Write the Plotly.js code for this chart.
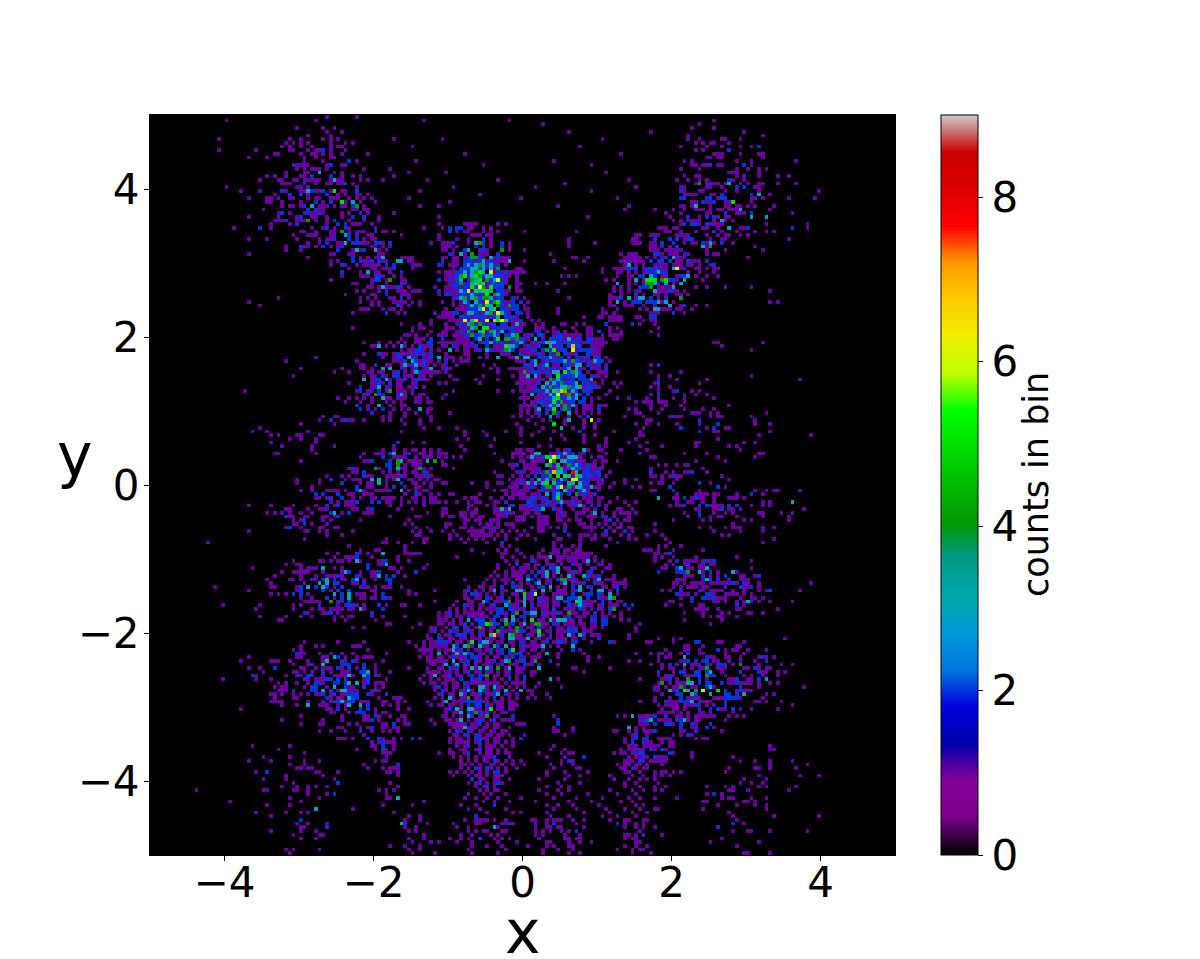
<!DOCTYPE html>
<html>
<head>
<meta charset="utf-8">
<script src="https://cdn.plot.ly/plotly-3.0.1.min.js"></script>
<style>
  html, body { margin: 0; padding: 0; background: #fff; }
  #chart { width: 1200px; height: 959px; }
</style>
</head>
<body>
<div id="chart"></div>
<script>
// cells, "row: col col*count ..."
// row 0 is the top of the plot, col 0 the left edge, 200 x 200 bins
const upperLeftCells = [
"0: 47 55","1: 20 44","3: 39 46 49","4: 47 51","5: 42 48","6: 18 37 40 46 48 50 65","7: 36 38 40 42 48 52 54",
"8: 35 37 40 43 48 50 51","9: 18 28 37 38 42 44 45 46*2 48 52","10: 33 34 40 43 44 46 48 51 58","11: 26 31 41 44 48 49",
"12: 41 46 53*2 55","13: 38*2 39 40 41 42 47 48*2 51 52","14: 39 41 43 44 45 47 57 64","15: 36 41 42 45*3 49 51",
"16: 31 33 36 40 41 43*2 48*2 51 54 56 65","17: 29 34 35 38 39 41 42 43 44 45 48 49*3 50 51 56 58 62",
"18: 35 36 37 41*2 44 47 48 50 51 52*2 54","19: 20 39 40 42 55",
"20: 24 29 35*2 36 40 41 42*3 43*2 44 45 46*2 48 49*5 51 52 55*2","21: 33 37*2 40*2 42 47*2 50 52 55 56 58",
"22: 26 31 32 34 37 38 42 44 45 48 49 50 53 55 57 59","23: 31 32 35 40 44*2 46 48*2 51*5 52 54*3 56 60",
"24: 35 37 38 40 41*2 43*3 45 46 47 49 51 52 54*2 55*4 57","25: 30 42*2 44*2 45 46 54 55 57 58",
"26: 34 35*2 37 41 42*2 43 44 45*2 46 51 53 56*2 58 65","27: 26 34 39 40*2 43 44 47 51 54*2 57*2 61",
"28: 33 34 35 36*2 39 40 41 42*4 44 47 49*2 53 57 61","29: 32 37 39*2 47 50*2 52*2 54 55 56 59",
"30: 22 29*2 32 43 46 47*2 49 52*2 53 60","31: 40 41 44 48 49 51*4 53 55 56 57 60*2 62 63 65",
"32: 38 42 43 44 48 49 52*3 53*2 55*2 58 59","33: 26 31 39 45 47 48 49*2 53*2 55 57 59 60",
"34: 42 45 47*2 50 51 52*3 54*2 55*2 56*2 57 58 60*2 61*2 62 64*2","35: 36 40*2 41 42 44 46*2 48 50 51*2 59 60 62 64",
"36: 36 40 50*2 54 55*3 56 57*2 60*3 61 63","37: 26 48 49 53 54 61 62","38: 42 54*2 56 58 60 61 62*3",
"39: 48 50 54*2 56*2 57 58 59*2 61*2 62 63 66*3","40: 48 51*2 52 55 57 58 59 60 61 63*2 65*2","41: 53 59 60 62 63 64 65*2",
"42: 51*2 56 58*3 60 61 64","43: 51 56 57 58 60*2 61*2 62 65","44: 48 59 60*2 61*2 63 64*4","45: 54 55 59 63",
"46: 58 59 61 62*3 63 64 65 66*2","47: 55 57 61 63*2 66","48: 52 59 60 63*2","49: 34 56 58 60 64 65","50: 26 56 59 61 65 66",
"51: 29 59 61 66*2","52: 56 57 58 62 64 65","53: 54 63*2 66","57: 54","61: 57 61 64 66","62: 59 60 61*3 63 65",
"64: 57 61*2 62 63 65 66*2","65: 44 62 65 66*2","66: 36 55 65 66","67: 56 57 60*2 63 64"
];
const middleLeftCells = [
"68: 40 51 56 57 59 62*3 64*3","69: 49 53 58 59 61 62 65 66*2","70: 38 57 59 60 62*2 63 65*2 66*2",
"71: 57*3 59 60*2 61*2 63*3 64 66","72: 53 59 60 61*2 62 64*2 66","73: 56*2 59 60*2 61*3 63 64 66",
"74: 25 55 56*2 58 59 61*2 63*2 64*4 66","75: 57 58*2 60*4 61*2 62 66*2","76: 50 53 55 57 59 62*3 63 64 66","77: 52 56 59 63 65",
"78: 55*2 58 61*3 64","79: 56*2 58 60 62*2 65","80: 59*2 64","81: 46 49 50 62 64","82: 45 48*2 51 52*2 53 54 57 62 64",
"83: 40 49","84: 29","85: 27 31 42","86: 32 34 39 40 45 46","87: 37 40 44","88: 32 44 66*2","89: 35 43 49 65","90: 43 62 65",
"91: 33 34 44 57 60 61 62 64*2 65*3","92: 56 62*2 65 66","93: 40 57 58 59*2 64*2 66*4","94: 63*2 64*2 66*4",
"95: 53 54*2 55 60*4 61 64*2 66*3","96: 54 55 57*2 62 64 66","97: 47 51 53 57*2 58 59 63 64 65 66",
"98: 39 45 48*2 52 54 55 56 59*3 61*3 63 65 66*3","99: 39 45 51*2 56 58 59 61*3 63","100: 43 55*2 58 59 63 65*2",
"101: 40 43 47 48 49 50 52 55*2 56*3 57 60 61 62 63 64","102: 44*2 46*2 50*2 53 54 57 58 59",
"103: 44 45 47 48*2 51*2 54 56 59 60 62 63 64 65","104: 48 50 52 53 54 55*2 59*2 61*2 63 64",
"105: 26 32 38 44 47*2 49 50*2 52 53 54 64","106: 36 37 42 45 46 47 54 55 58 59*2 66",
"107: 31 33 35 37 40 43 48*2 49*3 51 53*2 57 58 59","108: 36*2 37 38 41 42 46 47 49 50*2 64","109: 38 40 41*2 46 48 56",
"110: 38 39 41*2 43 47","111: 36 37*2 40 45 46 49 50","112: 26 41 42 45 47 54","113: 47 51","114: 41 63","115: 15 62 63 66","116: 53",
"117: 56 60 61","118: 47 50 55*2 56 58 62*3","119: 49 52 53 54 55*2 59 66",
"120: 38 45 46 48 50 51 53 55*3 56 61 62*2 63*2 66","121: 36 39 40 58*2 61 62 63*3","122: 27 40 42 43 44 46*3 49 51 58*2 64 65",
"123: 35 38 39 40 41 42 46 51 52*3 53*2 56 59 60 61*2 66","124: 33 40 44 47 48 49 50*2 51 55*2 56 59 60 61*3 63*2 65*2",
"125: 31 37 38 40 43*2 44 46*2 47*3 49*2 51 52 54*2 55*3 57 60 63*2 64*2","126: 32 41 45*3 47*3 49*2 50*2 54 55 57*2 64*2",
"127: 17 32 33 39 40*2 42*3 44*2 46*3 47*2 49 51*2 56*2 57 58 60 62 63 64","128: 26 39 40*2 46*2 48 50*2 53*2 59 60",
"129: 32 34 36 38*2 40*2 42 49*3 51*2 53*3 55 56 57 60 62*2","130: 40 43 47*2 49 51*2 53*3 56 57 59 60 62*2 63*2 64",
"131: 41 42 43 44 45 48*4 50*2 51 53*2","132: 19 29 38 40 45*2 50 52*2 53*2 54*2 55 57 61*2 63",
"133: 28 38 43 45 46 48 49 50 51 53 54 56*3 57 62*2","134: 41*2 42 46 47 48*2 50 59*2"
];
const lowerLeftCells = [
"135: 29 36 40 43 49 51 53 54 59 62","136: 34 35 49 52 60","137: 63 64","138: 54 57","142: 41 50 57","143: 40 44 46 54 55 56",
"144: 38 40 58","145: 39*2 40 41 45 48 51 54 63","146: 26 39 40 46 47 49*3 50*2 52 55 57 58 59",
"147: 24 32 33 34 37 42 46 47*3 51*2 52 54*2 55 62","148: 38 42 43*2 46*3 51*2 52*2 53*2 57*2 60",
"149: 26 29 33*2 40 41 44 46 47 48 50*2 51 53*2 55 57*2 60","150: 30 38 39 41 43 46*2 48 51 52 53 56*2 57*2 58*3 60 64",
"151: 27*2 28 36 39*2 40 42*2 43*2 46 49 50 51 52 53*3 54 57*3 58*2 60*2 61","152: 19 28 32 41*2 42 44 45 46 47*2 48*2 50*2 52*2 57 58*2 63",
"153: 34 36 39 42 44*2 45*2 46 49*2 50*2 52*2 53*3 55*3 57 58*2 60 61 62","154: 33 35 36 41 43*2 44*2 47 49*3 52*2 53 54 57*2 60 62",
"155: 34 35 36 38*2 43*2 44*2 46*3 48*2 50 51*3 52*3 53 54 55 59 60*2 61","156: 32 33 35 38 40 42 44 45 46*2 48 49*2 51 52 53*2 54*2 55*2 58*2 59 63*2",
"157: 33 38 39 47*2 48 50 51 53*3 54*2 55*2 61 65 66","158: 32 33 34 35 42 46 48 49*2 50*2 51*3 52 53*2 54*2 56 57 58 62 63 66",
"159: 35 39 42*3 45 46 47 50 52 53*3 56*3 58*2 62 64 66","160: 24 47 48 50*2 52 56*2 58*2 60 66","161: 48 49 53 55*2 56*2 57*2 60 62 63",
"162: 40 51 57 58 60*2 61 64","163: 35 46 51 57 58 59*2 61 66","164: 40 45 46 53 55 62 63 65*2","165: 50 51 56 58 59*2 62 63 65 66",
"166: 45 48 52 56*2 59 62 64 66","167: 57","168: 50 51 52 54 58*2 61*2 62 65","169: 59 61 62*2 63 64 65","170: 27 37 59 60 62*2 65",
"171: 34 55 60 62*2 63 65","172: 41 62 63 64","173: 30 37 63","174: 26 32 41 45 60 62 63","175: 37 41 57 66*2",
"176: 39 40 42 43 58 62 64 65 66","177: 28 31*2 44 45 50 63 64 66","178: 36 46 66","179: 30 36 49","180: 38 50*2 64","181: 35 39 42 44 47 66",
"182: 12 30 31 38 39 42 61 63 65","183: 42 47 49*2 63","184: 37 45 63 64 66*3","185: 21 40","186: 31 37 62","187: 44*3 54","188: 28 36 40 42 65",
"189: 32","190: 40*2","191: 39 42 47","192: 40 41 47*2","193: 32 40 44","194: 38 45 46","195: 40 44","197: 64","198: 36 38 45","199: 37"
];
const upperMiddleCells = [
"1: 73 96","2: 105","4: 112","6: 78 121","8: 70 115","10: 84 126","12: 71 108","13: 89 118","15: 69 79 122","17: 74 93 128","18: 111",
"19: 81 103 130","20: 72 118","21: 88","22: 69 99 125",
"23: 80","24: 72 77 109 128","25: 127","27: 77 117","29: 77 84 85 86 87 93 95","30: 73 78 80*2 82*2 83*2 85 86 89 91",
"31: 80*2 82 84 85 89 91 93 100 114","32: 67 77 86 87 88 90 91 130 131","33: 77 82 85 89*2 91 112 129 130",
"34: 75 78 79 80 81*2 85 87*3 88*4 89*2 91 94*2 96 112 119 129 130 131","35: 78 79 80 82 87 89 91 94*2 96 112",
"36: 78 79 81 84*2 85*3 88*2 89*2 90 94*4 96 100","37: 80*2 81 83*3 84 86*4 88 89 90 93*2 107",
"38: 67 68 69 70 81 82 84 85*2 86*4 87*4 88*2 89 91*3 92 93*2 94 95 96 113 114 117",
"39: 67*3 69 70 78*2 81 82 84*2 85*2 86*2 87 88*2 89*3 90 91*2 92 93 94 95 96*3 100 108 116",
"40: 70 71 72 77*2 81 82 84*2 85*3 86*2 87*3 88*4 89*3 90*2 91*3 92*2 93*2 95",
"41: 70 81 83*2 84*2 85*2 86*3 87*3 88*2 89*3 90 91*3 92 93*4 98 99 111 121",
"42: 67*2 80 81 82*2 83*2 84*3 85*3 86*3 87*4 88*5 89*3 90*3 91*6 92*3 93*2 94 95*2 96 97 98 99 100 121",
"43: 67 79 80 81 82*2 83*4 84*5 85*2 86*3 87*5 88*4 89*2 90*3 91*3 92*2 93*2 94*2 95 96 98 110 112 114",
"44: 67 68 80*2 81 82*2 83*3 84*2 85*2 86*4 87*3 88*5 89*2 90*4 91*2 92*3 93*3 94*2 95 98",
"45: 67*2 68 80 81 82*2 83*4 84*2 85*2 86*3 87*5 88*3 89*5 90*3 91*2 92*2 93*2 94*2 95 98 99 103 106 111",
"46: 67 69 80 81*2 82*2 83*4 84*2 85*2 86*5 87*4 88*6 89*4 90*3 91*5 92*2 93*2 94*2 96*4 98",
"47: 67 68 70 71 72 77*2 79 80 81 82 83*3 84*2 85*6 86*3 87*5 88*3 89*5 90*5 91*3 92 93*2 94*2 95 96 98 99 109",
"48: 67 68 69 80*2 81 82 83*2 84*4 85*2 86*3 87*2 88*4 89*2 90*5 91*2 92*4 93*3 94*2 95",
"49: 67*2 69 81 82*2 83*3 84*4 85*3 86*3 87*4 88*5 89*4 90*4 91*3 92*3 93*2 94*2 97*2 98 100 112",
"50: 67 68 70 72 83 84*3 85*2 86*2 87*3 88*2 89*3 90*6 91*4 92*4 93*5 94*2 95 96 97*2 99*2 101",
"51: 67 69 72 81 83 84*2 85*4 86*3 87*5 88*4 89*2 90*5 91*3 92*2 93*4 94*2 95 96*4 97*2 98*2 100",
"52: 67 83 84 85*2 86*2 87*4 88*3 89*6 90*4 91*3 92*5 93*2 94*2 95*2 96 97*2 98*2 100 101 109",
"53: 68 76 78 79 80 81*2 82*2 84 85*6 86*3 87*2 88*3 89*2 90*3 91*4 92*3 93*7 94*3 95*2 96 98*2 99*2 101 109",
"54: 77 78 79 80 84*2 85*2 86*3 87*2 88*2 89*2 90*3 91*2 92*2 93*3 94*3 95*2 96*2 97*2 98 101 116",
"55: 75 80 81 82 83 84*6 85*3 86*3 87*7 88*3 89*2 90*6 91*2 92*7 93*3 94*2 95*3 96 97 98 99*2 102 104",
"56: 67 72 75 79 82 83*2 84*3 85*3 86*4 87*5 88*4 89*2 90*3 91*2 92*2 93*2 94*2 95 97 98*3 99 100 103 105 110 111 114 116",
"57: 70 72 73 79 80 81 83 84*2 85*3 86*3 87*4 88*2 89*5 90*5 91*3 92*2 93*2 94*4 95*2 96*2 97*2 98 99 103 104 105 108 113 117 118",
"58: 70 75 78 79 82 83*2 84 85*4 86*2 88*3 89*5 90*3 91*4 92*3 93*3 94*3 95*3 96 97*2 98 99*2 103 104*2 106 108 109 111 114 117 118 120*2",
"59: 68 69 71 74 77 78 79 81 82 83 84*2 85*2 86*4 87*2 88*2 89*4 90*2 91*2 92*3 93*2 95*2 96*2 97*3 98*4 100 101 102*2 104*2 105*2 108 109*2 110*2 111 112 113 114 115 117 118 121",
"60: 67 71 72 73 75*2 78*2 82 83 84 85 87*2 88*3 90*2 92*2 93*5 95*4 96*4 97*2 98*4 99*2 100*2 101 103*3 105 107*2 108*2 109*2 110*2 111 112*3 113 114*2 115*2 117*2 118*2 119 120 121",
"61: 68 71 72 74*2 75*2 77 78 79 80 81 82 83 84 85 86*2 88 89*2 90*2 91*3 92*2 93*2 94*2 95 96 97 98*2 99*3 100 102 103 104*2 105*2 106*3 107*3 108*3 109*2 110 111*2 112*2 113*2 114*2 115 116 117*2 118 119 120 121 122",
"62: 67*3 68 70 72*2 73 74 75*2 78 79 81*2 82 84 85 86 87*2 90*2 92 93 94 95*5 96*3 97*3 98*2 100 101*2 103*5 104*2 106*2 107*3 108*3 109*2 110*2 111*3 112*2 113*7 114*2 115*2 118 119 120 121",
"63: 67 69 70 71*2 72*2 73 75 77 80*3 82 84 85 87 88*2 90*3 91*2 92 93 94*2 95*4 96*3 97*2 99 100 101 102*2 103*2 104 105*2 106*4 107*5 108*5 109*5 110*2 111*2 112*2 113*6 114*2 115*2 116*2 117*2 118*2 119 120",
"64: 67 68 69 70 71*2 72 73*2 74 75*2 79 84 85 90 94 95 96 99*2 100 102 103 104*2 105*3 106*4 107*2 108*4 109*4 110*2 111*2 112*3 113 114*2 115*2 117*2 118 119 120",
"65: 67*2 69*3 70*2 71 73 74 75*2 77*3 79 80 81 83 85 88 90 93*3 96 97 98*3 100*3 101*3 103*2 104*2 105*2 106*4 107*3 108*2 109*4 110*2 111*3 112*2 114*2 115*2 116*2 117*2 118*2 119*2 120*2 122",
"66: 67 68*2 70*3 71*2 72 73*2 74 75 77 79*2 81 83 84 85 99 100 101*2 102*2 103*3 104 105 106*2 107*2 108*2 109*4 110*2 111*3 112*3 113*4 114*2 115*2 117 118 119*3 120*2 121*2 123",
"67: 67 68*3 69 70*2 71*3 72 73*2 74 76 78 79 82 89 92 100*2 101*2 102*3 103*3 104 105*5 106*3 107 108 109 110*2 111*2 112*2 113 114*5 115*3 116*2 117*2 118 119 120*2 122",
"68: 67*2 68 70 71*2 73 74 75*3 78 79*2 80 91 93 96 98 99 100 102*2 103 104 105*2 106*3 107*2 108*4 109 110*2 111*3 112*3 113*2 114*3 115*2 116 118*2 120 122*2",
"69: 68 70 71*3 72*2 73 74 75 76 77 79 93 99 100*4 101*3 102*2 103*2 104*4 105 106*2 107*3 108*3 109*3 110*3 111*5 112*2 113*6 114*3 115*2 116*2 117 120 121 122 125",
"70: 68 69 70 72 73 75 80 89 97 100 101*3 102 103*5 104 105*2 106 107*2 108 109*5 110*2 111*2 112*4 113*2 114*3 115*4 116*2 117*2 118*2 119",
"71: 67 68*2 70 71*2 72*2 73 74 81 82 87 93 99 100*3 101 102 103*3 104 105 106*2 107*4 108*4 109*3 110*2 111*3 112 113*2 114*2 115*2 116*2 117*3 118*3 121",
"72: 67 70 71 77 79 88 99 101 102*3 103 104*2 105 106*3 107*2 108*3 109*4 110*4 111*2 112*4 113*2 114*3 115*2 116*2 117*2 118 124 126",
"73: 67 69 70 71*2 73 99 101*3 102 103*2 104*2 105*3 106*4 107*4 108*4 109*2 110*5 111*3 112*4 113*4 114*3 115*3 116*3 117*2 118*2 119*2 120 125",
"74: 67 68 70 81 93 99 100 101 102*3 103*2 104*2 105*3 106*3 107*3 108*5 109*5 110*7 111*5 112*3 113*3 114*2 115*2 116*2 117*2 118 123",
"75: 67*3 68 70 72 73 79 100 102*3 103 104 105*2 106*3 107*3 108*4 109*6 110*4 111*8 112*4 113*3 114*3 115*2 116*2 117*2 122",
"76: 67 68 71 72 74 78 100 101 102*2 103 104 105*3 106*2 107*2 108*5 109*5 110*5 111*2 112*5 113*2 114*3 115*2 116*2 118 125 128 133",
"77: 67 71 72 74 75 100 102 103*3 104*2 105*2 106*3 107*2 108*5 109*4 110*4 111*3 112*2 113*2 114*2 115*2 116*2 118 130 132 133",
"78: 67 68 99 100 101 102 103*2 104 105*2 106*5 107*3 108*4 109*3 110*3 111*4 112*3 113*3 114 115*2 116 117 118 120 122",
"79: 67 69 72*3 74 75 99 101 103 104*3 106 107*2 108*5 110*2 111*4 112*2 114 116 117 118 120*2 128 130",
"80: 68 71 74 80 99 101 103 104*2 106*2 108*4 109*2 112*3 114 116 118 120 130 131",
"81: 68 75 97 99 102 104 107*3 109 112 115 117*2 127 132",
"82: 67 72 75 101 105 107*2 111 112*3 116 118*6 120 133",
"83: 68 72 98 103 108*5 111 116 119 130 133",
"84: 73 77 82 99 105 110*3 113 116 119 132",
"85: 67 84 89 95 99 104 108 115*2 124 131",
"86: 84 90 99 102 110 116 119 131 132","87: 82 85 92 107 111 116 122 130","88: 70 73 99 116 122 128 133",
"89: 83 91 104 107 120 122 131"
];
// right side of the crop around x = 2, y = 3
const upperGapCells = [
"37: 126 128 129 130","38: 127 128 129 130 131 133","39: 126 127 128 129 130 131 132 134*2","40: 127 128*3 130 132","41: 124 125 126 127 128*2 129*2 130*2 132 133*2",
"42: 125 126 128 130 132 133*2","43: 125 128 129 131*2 132*2 134*3","44: 122 124 128 130*3 132 133*5","45: 125*3 128 130 132 133*4","46: 124 126 128 131*2 132*2 133*2",
"47: 124 126 128 130 131","48: 123 126 130*2 132","49: 123 124 125 126*2 128*3 130 131*3 132*3","50: 123 125*3 127 129*2 130*2 131*2 133*2","51: 123 124 127 128 129 132",
"52: 121 125 131 133","53: 121 122 124","54: 120 121 123 124 125 126 130 131 134*2","55: 123 124 125 126 132","56: 122*2 129*2 131","57: 123 125","58: 123 126","59: 123 124 125 126","60: 124 125"
];
// purple and blue cells around the three bright clumps and in the big lower lobe
const clumpEdgeCells = [
"38: 78 79","40: 78 80","42: 77 79","44: 77*2 79","46: 76 79","48: 77 79*2","50: 78 81","52: 79 82","54: 81 83*2",
"62: 100 102","64: 101","66: 98","68: 97 101","70: 99","72: 98 100","74: 97","76: 99 120","78: 121","72: 119 121","70: 120 122","68: 119",
"90: 98 101","92: 97 121","93: 99 119 122","94: 98*2 121","95: 97 100 120","96: 98 99*2 123","97: 97 122","98: 99 120 121*2","99: 98 100 121","100: 97 120 123","101: 98 120","102: 99 118 119*2","103: 99 121",
"116: 96 110 113","117: 98 105 109 114","118: 95 99 104 107 111 118","119: 97 100 106 110 119","120: 95 98 103 106 110 114 119 121",
"121: 93 96 98*2 103 107 110 117 120","122: 93 97 100 103 108*2 111 115 119 122","123: 92 95 99 102 104*2 108 113*2 117 121","124: 91 95 101*2 105 108 113 120*2 124",
"125: 90 92 98 102*2 106 109*2 113*2 119 124","126: 89 92 95 99 103*2 107 110 116*2 121 125","127: 88 91 94*2 98 102 105*2 109 113*2 118 121 124","128: 87 91 94 100 103*2 107 111 114*2 118*2 123",
"129: 88 90 94 98 102*2 105 110 113*2 116 120*2 125","130: 85 88 91 93 98 102 105 108 114*2 117*2 122","131: 82 86 90*2 95*2 98 102 105*2 108 111*2 116 119 123","132: 81 86 89 92*2 97 102*2 105 109 113 116*2 120 124",
"133: 80 84 88 93*2 97*2 102 105 108*2 112 116 120 123*2","134: 79 82 84 91 94*2 97 101*2 105*2 110 113 116 119*2 123","135: 80 83 85*2 90 92*2 95 99*2 102 105 108 112*2 116 119 124",
"136: 78 81 83 87*2 91 94 98 100*2 104 108 112 115 119*2","137: 77 81 83 86 92*2 96 99 102 105 108*2 112 115 119","138: 76 79 81*2 85 87 91 94*2 99 102 104*2 107 110 114 116 119",
"139: 75 78 81 85*2 88 91 94 99*2 103 107 110 114*2 117","140: 74 77 79 83*2 86 89 94*2 98 102 105 107*2 110 113","141: 74 77*2 81 83 86 91 94 98 100 104 107 110 114","142: 73 76 79*2 83 85 91 93 96 99*2 102 105 108 111",
"143: 76 79 82*2 86 89 93*2 97 99 104 107","144: 72 77 80 83*2 87 90 93 96*2 99 102 105","145: 75 79 83 85*2 88 91 94*2 97 101 104","146: 74 78 80 83 87*2 90 93 96 99*2 103",
"147: 74 79 83 87*2 91 94 98 102","148: 76 78 81 84*2 87 90 94*2 97 101","149: 74 77 81 84 87 91*2 95 99","150: 77 79 82 85*2 88 91 95 99","151: 75 79 83 85 89*2 92 95 98","152: 75 80 83*2 87 90 94 98",
"153: 75 78 82 84*2 95","154: 76 79 82 85*2 90 93 96","155: 79 83 86 89*2 93 97","156: 77 81 84 88*2 91 95","157: 78 81 84 87 90 94","158: 78 81 83 89 94 96","159: 77 80 83 87*2 91 93 97","160: 79 83 87 90 93 96",
"161: 79 82 86 89 92 94","162: 78 83 86*2 89 93","163: 80 82 85 89 92*2 95","164: 84 87 90 93","165: 81 83 86 90 92","166: 83 86 89 91 94","167: 81 85 88 91 94","168: 82 85 89 93"
];
const lowerMiddleCells = [
"90: 68 70 71 73 75 77 84 99 102 109 111 112*2 116*3 117 120 121 126 133","91: 68 69*2 72 73 75 77 78 79 92 97 98 99 100 102 103*3 104*3 107 108 109*2 110*2 111*3 112 113*2 115 116 122 131",
"92: 67 68 71 73 74 75 77 79 81 83 99 101 102*3 103 104 105*2 106*5 107*3 108*6 109*3 110 111 112*3 113*3 114*3 115 118 120",
"93: 67*3 69 70 71 72 74*3 76*4 78 94 100 102 103 104*3 105 106*2 107*6 108*4 109 110*3 111*3 112*5 113*2 114 115 116 121 125",
"94: 68 70 71 72 78 79 96 97 100 101 102*3 103 105 106*3 107*4 108*3 109*3 110*2 111 112*4 113*2 114*5 115*2 116 117*2 118 119",
"95: 67 68 71 72*4 73 75 81 101 102 103*2 104 106 107 108 109*4 110*3 111*3 112*2 113*3 114*4 115*2 116 117*2 118 119 121",
"96: 68 70 71 73*2 74 92 100 102 103 104*2 105*3 106*4 107*4 108*7 109*3 110*5 111*2 112*2 113*8 114*3 115*2 116*2 117*2 118 119*2 120*2",
"97: 67*2 68 71 72 73 74*2 75 93 94 99 101 103*2 104 105*2 106*4 107*4 108*2 109*5 110*2 111*5 112*3 113*2 114*5 115*3 116*2 117*2 118*2 119 120*2",
"98: 69 70 72 74 76 77 96 98 100 102*2 103 104*3 105*3 106*3 107*3 108*4 109*3 110*3 111*2 112*2 113*6 114*6 115*2 116*2 117 118 119 127 130",
"99: 67*2 70 71 73 75 78 79 86 90 93 94 97 99*2 101*3 102*2 103*3 104*3 105*3 106*5 107*3 108*3 109*3 110*2 111*2 112*3 113*3 114*2 115*3 116*2 117*2 120 124 127",
"100: 68 71 72 75 90 96 98 100 101*3 102*2 103 104*3 105*2 106*7 107*4 108*3 109*3 110*6 111*3 112*4 113*3 114*3 115*3 116*2 117 118*3 119 129 131",
"101: 67*3 69 71 73 74 92 94 95 97 99 100 101 103 104 105*2 106*3 107 108*4 109*2 110*2 111*3 112*4 113 115*2 116*3 117",
"102: 68 71*2 72 75 77 80 81 88 95 97 98 100 102 103 104 106*3 108*2 109*3 110*2 112*2 114*4 115 116*2 117",
"103: 67 70 71 73 75 76 84 86 87 91 94 96 97 100 101 102*2 103*2 104 105*2 106 108*2 109*5 110 113 114 116 117 118 120 125",
"104: 67 69 71 73 75 76 77 79 82 85 87 88 92 93 95*2 101*2 102*2 103 105 106*2 107*2 108 109*2 110*3 111 112 113*2 114 115 117 118 120 123 127 130",
"105: 67 73 85 86 90 92 96 97*2 99 100 101*2 102*2 103 104 105*2 106 107 108 110*2 112 113 114*2 115*3 116 118*2 120*2 122 128",
"106: 70 78 79 85 87 92 93 94*3 95 96*3 99 100 101 102 103*2 104*2 105*3 108*2 109 110 113 116 117 119 122 125 126 129",
"107: 74 78 79 83 84 86 87 92 93 94 95*2 96 97 100 101 103 104 109 110*2 111 114 115 116 118 119*3 121 124 126 127 128 130",
"108: 71 72 78 80 81 83 84 86 88 89 93 94 95 98 99 100 102 104 105 106 109 110 111 114 117 118 119 121*2 122 124 128",
"109: 69 84 85 87 88 91 92 93 98 99 100 104 105 106 109 110 112 114 115 118 122 123*2 125 127 128",
"110: 68 70 79 80 84 88 90 91 93 95 96 97 104 105 106 111 115 116 118 120 122 124 126",
"111: 71 74 79 83 84 86 89 90 91 92*2 93 97 102 104 105 107 109 111 116 117 118 119 121 123 125 126 128 129",
"112: 70 72 75 78 81 85 86 87 88 89 91 92 94 96 98 100 104 105 111*2 118 122*2 124 127*2 129",
"113: 71 72 80 82 86 87 88 89 90 91 93 95 99 101 108 112 115 116 117 119 121 122 126 128 133",
"114: 73 74 80 83 85 87 89 92 95 98 103 109 110 115 118 119 123 128 130",
"115: 70 73 84 90 94*2 108 115 125","116: 68 94 108 115 122","117: 68 86 93 95 108 111 112 115 132 133",
"118: 68 69 70 71 72 89 94 108 109 113 114 115 116 117","119: 82 94 102 104 105 107*3 109 111 112 113 114 115 116 117",
"120: 69 102*2 109 112 113 116 117*3","121: 74 100 101 104 106 108 113*2 114 115 121 123","122: 67 73 99 101 105*2 107*2 109*3 112 118*2 123",
"123: 71*2 97 98 100 105 106*3 109*3 112 114 115 118*2","124: 68 93 97 98 99 103*2 106*3 110 112*3 116*3 117*2 118 119",
"125: 84 94 95 96 99 101*3 104 107 110*4 111*4 112 114 117 120*3 122 123 127","126: 97*2 101 104*3 106 111*3 113 114 115 119*2 120 124 126 127",
"127: 67 85 89 92 97*2 99 104 107*3 111 115*3 117*2 122 125*2 127","128: 69 76 84 85*2 89 92*3 95 98*3 99*3 102 105*3 109 110 113 115*3 120*3 121*3 125*2",
"129: 69 71 84 86*2 87*2 92 97 100*5 101 103*6 108 109 111 117*2 118*2 121 123*3","130: 84 87 90*2 94*2 96 100*3 101 104*2 106 109*3 110*3 112*2 113*2 115*3 120*2 121 123*3 124*4",
"131: 76 85 89*3 92 93 94 96*4 99 100*3 104 106 109 112*2 114*5 115*3 117 118 121*2 125 126","132: 67 68 72 84*2 85 88 91 95*3 96*2 98 100*3 104 106 108 112*2 114*2 115*3 117 118 121*2 123 125 127*2 129*2",
"133: 82 86 90 91 92 94*2 96*2 98 99 100 103 106 111 113 115*2 118 121 124*4 128","134: 77 80*2 85 86 87 88 89 93*2 95 98*4 100*2 102*3 103*3 106 107 108 109*2 112*4 114 117 121 126",
"135: 68 77 79 82 86 87 88 89 93*2 97*3 100 103 106 111 114 115 118 121 122 126","136: 77 79 85*3 88*2 89*2 92*2 95*3 97*3 102*5 105 107*3 109*3 110*3 111*3 113 118*2 121*2 122*2 126 128",
"137: 72 78 80 84*2 88*2 89*2 90*5 91*4 93*2 95*4 97*2 100*3 103*4 104*4 106 109 111 113 116 118 121*2 122*2 131","138: 70 75 82*2 84*2 88*4 89 92 96 98*4 101 105 109 112*2 113 118 121 130",
"139: 76*2 80*2 82 84 86 89 93*4 95 96 97 98*4 100*2 102 104*5 106 109 111 112*2 113*2 116 118 130","140: 80 82*2 84*2 88*2 91*3 92*7 93 96*3 97*4 99 101 104*3 109 112*3 115*3 116*2 118 119 120 128",
"141: 75 78 80 84 87 88 90 92 96*3 97*3 99 101*3 103 106 109 111 113 116 120*2 128","142: 69 75 77*2 78*2 80 82 86*5 88*2 89*3 90*3 94 97 100 103 106*2 109*2 110*2 113*2 114*2 118 123*2 124 133",
"143: 71 73 75 77 78 81*3 84*3 85*4 88*3 90 92*3 95*3 100*2 101 102 103 105*3 109 113*3","144: 73 74 75 79 81*3 82 85 88 91*2 94*2 97*5 100 103 110 113*2 115",
"145: 73 77*3 81 82*3 84*3 86*2 89 93 96*2 98*2 99*2 106*3 109 116 130","146: 72 75 77 81*2 82 84*2 86*2 88 92 95*2 97*2 100 102 104 109 117 120",
"147: 75 76 77 78 81*3 84 85*2 88 90 92*2 95*3 96*4 99*2 100*2 103*4 107*2 117 128 131","148: 75 79*3 82*3 85 89 91 93 96 98 100*2 102 104 109",
"149: 69 78 80*2 82*2 86*3 88*3 90*3 93*4 96*3 98 100 104*3 113 114 123","150: 74 75 76 80 84 87 90 93 96 98 102 103 116",
"151: 73 76*3 78 80*2 82 86*2 88*2 90*4 93 96*2 100*2 102","152: 72 77 79 81 86*2 88*2 92 96*2 100*2 107*3 109 131","153: 73 76 79 81 85 86 87 88 89 90 91 92 93 97 98 99 100 104",
"154: 77*2 81 84 88*3 89*3 92*3 94 98 100 103 110","155: 76 78*2 81 84*2 85*3 88*3 90 92*2 95*3 99*3 101 102","156: 78*2 80 83*3 86 87 90 92*2 93*3 96 98 102 106",
"157: 67 76 80*3 83 85*4 88 92*2 96 98 101 103 107","158: 68 74 79*3 82 84*2 85*2 86*2 87*2 88*2 90 92 93 97 131","159: 75 78 81 85*2 88*2 90*2 94 96 98",
"160: 69 80*2 82*3 85*3 86*3 88 91*5 94 97","161: 81 83*3 85*2 87*4 88*2 90*2 95*2","162: 67 68 79 81 85*3 88 90*4 92 97*2 108 125 127 129*3 131 132 133",
"163: 68 75 79 83*3 87 88*2 91 94 96 97 109*2 131 132*2 133*2","164: 68 69 76 80 81 82 83 86 88*2 92 98 99 100 109*2 131 132 133","165: 82 84*3 85*2 87 89 93 96 108 113 128*3 130 132",
"166: 80 82*2 85*2 88 92 95 108 109 113 124 125 128 130 132 133","167: 82 84*2 87*2 90 93 96 100 111 129 130*2 133","168: 67 70*2 72 80 83 87*2 88*2 90 92 97 99*2 127 129 130*2 132 133*2",
"169: 80 82 83 84 85 87 88*2 90 92 93 95 97 127 129*2 132*2 133","170: 82 84 85*2 88 90 91 92 94 97 108 128 129 130 132 133",
"171: 80 83 84 87 88*2 90 91 93 95 107 111 126 128 129 130*2 131 132","172: 77 80 81 84 85*2 88 90 91 93 95 96 104 110 112 113 124 126 127 129 130 131*2 132*2",
"173: 81 83 85 87 89 90 91 92*2 96 106 111 116*2 128 130 131 132*2 133","174: 83 85 87 89 90 92*2 93 95 97 99 110 112*2 113 127 128 129 131*2 132",
"175: 83 84 86 88 91 92 94 97 100 107 110 113 125 127 128 130 131 133","176: 83 85 87*2 88 90*2 91 93 95 98 108 114 115 126 127 129*2 130 132 133",
"177: 80 82 84 86 88 90 92*2 93*2 95 106 111 117 127 128 131","178: 81 85 87 88 90 92 93 94 106 112 115 123 129 132","179: 86*2 88 89 92 93 96 104 111 124 128 131 133",
"180: 85 87 88*2 90 92 93*2 94 109 115 127 130","181: 87 89 90*2 92 106 110 112 127 131","182: 88 90 92 93 104 109 112 123 129 132",
"183: 85 89 91 95 106 110 117 125 130","184: 84 87 90 93 99 108 114 121 128 131","185: 73 89 92 96 103 112 118 126 129","186: 70 83 87 92*2 106 109 113 120 130 132",
"187: 85 88 95 108 114 122 127 131","188: 90 97 99 106 116 123 129 133","189: 69 72 87*2 107 112 121 125 130",
"190: 68 72 84 87 88 89 90 92 95 102 103 106 108 109 110 113 116 123 127 128 132 133","191: 67*3 68*2 74 81 87 88 94 95 97 96*2 103 106 108*2 114 125*2 127 130 132",
"192: 68 71 82 85 92*3 93 103 106 107 109 110 116 127 130 132","193: 69 71 85 87 89 90 94 95 103 105 107 110 112 114*2 131","194: 73 83 86 91 93 103 105 111 115 127 128 130 132*2",
"195: 69 73 80 83 85 88*2 92 94 96 104 111 112 114 115 127 129 130","196: 70 75 77 82 86 93 98 106 107 112 115 118 130 131","197: 68 72 86 90 94 101 106 108 112 113 127 130 133",
"198: 69 72 85 95 105 109 113 125 129 131 132","199: 70 76 86 93 105 112 115 129 134"
];
const upperRightCells = [
"1: 151","2: 147","3: 145 151","4: 134 159","5: 144 164","6: 144 147 153 154 158","7: 146 148 150 151 155","8: 142 149 153 158 161 163*2","9: 146 148 155*2",
"10: 151 152 153 158 163 164","11: 149 150 152 153 164","12: 143 145 157 161 173","13: 145 146 148 149 150*2 152 153 159*2 161","14: 142 147 157 160 163 165",
"15: 155 156 157 163","16: 143 146 147 157 159 163 168 171","17: 141 144 147 149 155*2 156 159","18: 146 147*4 149 150*2 151 152 154 155*3 158 160 163 164 168 173",
"19: 142 143 149 150 153 157*2 159*2 162 163","20: 142*2 143 147 148 154 157 163 179","21: 143 144 145 146 150 151 153*2 161*2 163*3 166",
"22: 142*2 143*2 149*2 150*2 152 153*2 154*2 161 162 164 171 178","23: 145 146 148*2 149 150 151*2 154 155 156*5 161","24: 142 143 145 146*3 150 154 155 157 158 160 162 167",
"25: 135 140 143 146 147 148 150 152 153 155 156 157 158*3 166","26: 138 142 149 150 154*2 157 158 159 161*2 172","27: 139 144*2 147 149*2 151*2 152 154 155 161*3 165*3",
"28: 140 142 144 145 146 147 151 153*3 154 156","29: 142 143*2 145*2 146*2 147 149*2 150 151 152 153 165 176","30: 136 137 138 140 141 148 149 152 155*3 158 159 160*2 172*2 176",
"31: 138 139 142 146 151*2 153 157 162 165 167","32: 134 135 136 141 142 143 144 149 152 154 155 158 160","33: 135*2 139*2 141*2 143 144*2 145*2 150 153 154 171",
"34: 134 135 137*2 140*2 143 145 146 148*2 149 150*3 151 153*2 156","35: 134 135 137 139 141*2 148*3 149 150*4 162","36: 134 135 136 138 139 140 141 142 149 154 164",
"37: 135*2 136*2 137 139 140 141 143*2 144 149 151 152","38: 135 137 138*2 140*3 141 142 143 160","39: 136*2 137*2 139*2 141 142 144*2 145 146 147 149*2",
"40: 135 136 137 138 140 141 142 144 145 147 150 151*2","41: 134*2 135*2 136*2 137 138 140*3 141*6 142 143*2 146 147 149 151 152",
"42: 134 135*2 136*3 137*2 138*2 144 147 151","43: 135*2 137 138 141 142*2 143*2 144*3 146 149 152","44: 134*5 135*5 137*4 138*5 139*2 140*2 141 143*3 148",
"45: 134*4 135*3 136*2 138*3 140 142*3","46: 134*4 136 137 138 139 140*3 146 149 154 161","47: 135*3 136 137 138 139*2 140 141 143 166","48: 135 136 138 141 142 144",
"49: 134*2 136 138*2 142*4","50: 134*2 135*2 136*3 137 138*3 140 166 168","51: 135 139*3 142 143*2 146 149","52: 135*3 136*3 137 138 139 141 142 145","53: 134 135 136 140*2 143",
"54: 134*2 135*2","55: 134 135","56: 135","57: 136","58: 134","59: 136","61: 151 152 164","62: 153","63: 161","67: 134 136*2"
];
const middleRightCells = [
"69: 134 142","70: 136 139 161","71: 136 141 149 174","72: 135 136*2 147","73: 134 136 139","74: 136 140 141*2 145 147","75: 134 136*2 143 146 149","76: 136 140 143 151",
"77: 134 136 137 138 143","78: 134 138 142 155","79: 134 137 143 148 151","80: 136 145 146 147 150 152 165","81: 139 140*2 141 142 150 152 153 161","82: 134 147*2 162",
"83: 136 141 147 152*2 162 166","84: 142*2 149 151*2 154 155","85: 147*2 151 152 166","86: 163 177","87: 152","88: 146 147 159 162","89: 137 146 155 157","90: 158",
"91: 143 149 163 164","92: 134 135 152 162","93: 146 154","94: 136 138 141 143 144","95: 134 148","96: 134*2 138 140 143 144 145*2 149","97: 134 135 137 139 140*2 141 142 153",
"98: 137 141 155","99: 134 136 137 140 147*2 150","100: 139*2 152*2 154","101: 134 135 140*2 147 162 165 167 168 174","102: 141 146 147 148 149 151 152 157 161*2 164",
"103: 136*3 140 141 143*2 145 146*2 147 148 151 155 156 157 159","104: 141 144 145 148 151 164 166 172*3","105: 139 141 142 143*2 147*2 149*2 150 151 152 153 155*2 157*2 161 164 166",
"106: 146 147 151 152 153*2 155 156 158 175","107: 143 147*2 151 154 156 163 164 169 172","108: 144 147*2 150 152 153 157 164 171","109: 140 148 150 159 161 171","110: 135 156",
"111: 147 150 154 156 157 158 164 167","112: 135 151 158 164","113: 137 153 155","114: 138 167","115: 139 164","116: 136 138 142","117: 134 136 140 148","118: 135 136 138 139*2",
"119: 135 137 140 146 157","120: 135 139 141*2 143 144 145 146 148 149*2 150 151*2 161","121: 138 140 143 144*2 147 148 150 151","122: 137 138 141*2 142*3 144 145 147 148 149*3 161",
"123: 136*2 141 142*2 143*2 144*4 147*3 148 150*2 152 156*3 157","124: 143 144 145 148*2 150 152 154*2 158 159 162 163*2","125: 141 142 143 148 149*3 150*2 152*2 155*2 158 159 160",
"126: 140 141 143 145 146 147 148 150 151 152 153 154 155 156*2 157 159*2 160 163 177","127: 140 142 144 145 146 148 149 154*2 158*2 159 160 161*2 163",
"128: 137 139 142*2 147*2 148 150 151 152 153 156 159 163 165 166*2 174","129: 141*2 142 143 144 146 149*2 150*2 151 154 155 156 157 159 161","130: 142 145*2 148*2 149*2 150 151*2 152 153 154 158 161 162 164",
"131: 139 140 145 151 152 154 157 159 160*3 161*2 163 166 172","132: 138 142 147 148 157*2 159","133: 146 147 148 149 152 157 158 168","134: 143 148 153 155 160 161 164"
];
const lowerRightCells = [
"135: 148 150 152 153 157","136: 143 153","137: 150","141: 136 140 142 170","142: 134 140 146*2 147*2 152 153 159","143: 143 144 148 157 158","144: 138 143 144 147 152*2 154 156 157 160 165",
"145: 134 136 137 139 142 144*2 147 148 154 159","146: 136 138 139 143*3 149*2 150 151 154 155 158 163 164*2 165 167","147: 136 142 143 144*2 146*2 148*2 149*2 151 152 155 158 162 165*2",
"148: 134 137 139*2 141*2 143*3 145 146 147 149*2 150 152*2 153*2 154*2 156 158*4 163 169 172","149: 137 139 140 143 145 147 148 149*4 152 153 154 159 160 162*2 163 165 166",
"150: 136*2 140 142*2 143*2 146*2 147*2 149*2 150*3 153 158*2 163*2 164 165 168 170","151: 136 138 139*2 140 143 144 145 146*2 147*2 149*4 150*2 151*2 154 159 161 164 168",
"152: 137 138 139*2 141 144*4 147*2 149 155 156 157*2 160 161 163*2 165*3","153: 136 137*4 139 141 142 143 144*3 145*3 147*2 149*2 150*2 153*2 155 156 157*2 158 159 160 161 163 166 168",
"154: 135 136 138 140 141 142*4 143 145 146 149*2 150*3 151 158*2 163 175","155: 135 136 139*3 140 141*2 143*5 144*3 146*4 148*6 152*5 154*2 157 158*2 159 160 161",
"156: 137 141*2 142*2 145*3 146*2 150*3 154*2 155*2 157*2 159*3 165 167","157: 135 139 142*2 144 145 146 147 151 152 153 154*2 155*2 156*2 157*2 158 164",
"158: 135 138*2 139 140 141 142*2 143*2 144*2 145*3 147*2 148 149 150 154*2 162 163 165 169","159: 136 138 139 140 141 143 144 145 146*2 147 149 151 154*2 172",
"160: 137 140 141 143 147*2 150*2 152*2 153 154 156*2 158 161 168","161: 136 137 138 139 140 142 144 147 148 150 156","162: 134 135*2 138*2 141 142 144 146 147 148 149 150 151 155 157 159",
"163: 134*3 136 137 138 139 141*2 142*2 143*3 144 146 147 154","164: 135*2 138*2 139*2 140 142*2 145*2 146 150*2","165: 142*2 145 146 149*2 151","166: 134 135*2 142 143 146*2 153",
"167: 140 142 144*2 145","168: 136 137 138 139 146 148 149","169: 134 137 139 140","170: 134 135 136 139 140 166","171: 134*2 135 137*2 138 166 167","172: 139*2 140 145",
"173: 135*2 136 137 138 145 156","174: 134 135 136 137 138 158 162 166 172","175: 137 166 176","176: 155 162 163 166 173","177: 135 137 138 140 142 154","178: 135 137 139 163 174 179",
"179: 135 159 165","180: 136 158 161 164","181: 135 138 149 154 156 163 165 173","182: 135 137 155 156 160 171","183: 149 151*2 153","184: 135 141 153 155 156 161 165","185: 148 149 159 160 162",
"186: 152 157 162 165","187: 135 136 148 165","188: 155","189: 156 167 179","190: 157","191: 156*2 159","192: 135 152*2","193: 156 160 161 166 176","194: 137","195: 153","196: 150 163","197: 157","199: 159 160 166"
];
// empty and single-count gaps, and bright specks, inside the bright clumps
const clumpSpeckCells = [
"42: 85*1 90*0 92*1","44: 84*0 89*1 93*6","45: 85*1 90*1","46: 83*1 87*2 90*1","47: 86*1 92*0","48: 84*2 88*1 91*0","49: 85*1 88*2 92*1","50: 86*0 89*1 91*2","51: 84*1 87*2 92*0 85*2",
"52: 87*2 90*1 93*0","53: 85*3 88*1 92*1 93*6","54: 86*1 90*1 94*0","55: 85*1 88*1 91*0 93*5 94*6","56: 84*1 87*2 90*1 93*0","57: 85*1 88*0 91*1 94*2","58: 86*1 90*1 93*1 95*0",
"62: 103*1 106*0 108*1 111*0","63: 104*0 107*2 109*1 112*0 114*1","64: 105*1 106*0 108*1 110*0 112*1 115*0","65: 103*0 106*2 109*1 111*0 115*1 118*0","66: 101*0 104*0 107*1 109*2 112*1 116*1",
"67: 102*1 105*2 107*0 110*0 114*3 116*0","68: 103*0 106*1 108*2 111*1 113*0 115*1","69: 101*1 104*2 107*1 110*0 113*4 116*0","70: 102*0 103*3 105*0 108*0 112*2 115*2 117*0","71: 100*1 103*1 106*0 108*2 111*1 114*0 117*1",
"72: 102*1 105*0 107*1 109*2 112*2 115*0","73: 101*1 104*0 106*2 108*2 110*3 113*2 116*1","74: 102*1 105*1 107*1 109*3 112*1 115*0","75: 103*0 106*1 108*2 110*2 113*1 116*0","76: 102*0 105*1 108*3 110*2 112*3 115*0",
"77: 103*1 106*1 109*2 111*1 114*0","78: 104*0 106*2 108*2 110*1 112*1 115*0",
"93: 104*1 106*0 109*0 112*2","94: 102*1 105*0 108*1 110*0 114*3","95: 103*1 106*0 111*1 114*2","96: 105*1 107*2 110*3 112*0 115*0","97: 104*0 106*2 108*0 110*0 113*1","98: 103*0 105*1 107*1 109*1 112*0 115*1",
"99: 102*1 104*1 107*0 109*2 111*0 114*0","100: 101*1 104*0 106*4 108*1 111*1 113*1","101: 103*0 106*1 108*2 110*0 112*2"
];
const cellBlocks = [upperLeftCells, middleLeftCells, lowerLeftCells, clumpEdgeCells, upperMiddleCells, upperGapCells, lowerMiddleCells, upperRightCells, middleRightCells, lowerRightCells, clumpSpeckCells];

const binCount = 200;
const binWidth = 0.05;
const xTicks = [-4, -2, 0, 2, 4];
const yTicks = [-4, -2, 0, 2, 4];
const cbarTicks = [0, 2, 4, 6, 8];
const maxCount = 9;

// nipy_spectral stops
const spectralStops = [
    [0, '#000000'], [0.05, '#770088'], [0.1, '#880099'], [0.15, '#0000aa'], [0.2, '#0000dd'],
    [0.25, '#0077dd'], [0.3, '#0099dd'], [0.35, '#00aaaa'], [0.4, '#009988'], [0.45, '#009900'],
    [0.5, '#00bb00'], [0.55, '#00dd00'], [0.6, '#00ff00'], [0.65, '#bbff00'], [0.7, '#eeee00'],
    [0.75, '#ffcc00'], [0.8, '#ff9900'], [0.85, '#ff0000'], [0.9, '#dd0000'], [0.95, '#cc0000'],
    [1, '#cccccc']
];

const xCenters = [];
const yCenters = [];
const z = [];
for (let i = 0; i < binCount; i++) {
    xCenters.push(-5 + binWidth * (i + 0.5));
    yCenters.push(-5 + binWidth * (i + 0.5));
    z.push(new Array(binCount).fill(0));
}

cellBlocks.forEach(block => {
    block.forEach(line => {
        const parts = line.split(':');
        const row = binCount - 1 - parseInt(parts[0]);
        parts[1].trim().split(' ').forEach(tok => {
            const bits = tok.split('*');
            const col = parseInt(bits[0]);
            if (col < binCount) z[row][col] = bits.length > 1 ? parseInt(bits[1]) : 1;
        });
    });
});

const fontFamily = 'DejaVu Sans, sans-serif';
const trace = {
    type: 'heatmap',
    x: xCenters,
    y: yCenters,
    z: z,
    zmin: 0,
    zmax: maxCount,
    zsmooth: false,
    colorscale: spectralStops,
    colorbar: {
        x: (941 - 150) / 745,
        xanchor: 'left',
        y: 0,
        yanchor: 'bottom',
        len: 1,
        lenmode: 'fraction',
        thickness: 37,
        thicknessmode: 'pixels',
        xpad: 0,
        ypad: 0,
        outlinecolor: '#000',
        outlinewidth: 1,
        tickmode: 'array',
        tickvals: cbarTicks,
        ticktext: cbarTicks.map(String),
        ticks: 'outside',
        ticklen: 5,
        tickwidth: 1,
        tickcolor: '#000',
        tickfont: { family: fontFamily, size: 42, color: '#000' }
    }
};

const axisBase = {
    range: [-5, 5],
    tickmode: 'array',
    ticks: 'outside',
    ticklen: 5,
    tickwidth: 1,
    tickcolor: '#000',
    showgrid: false,
    zeroline: false,
    showline: true,
    mirror: true,
    linecolor: '#000',
    linewidth: 1,
    tickfont: { family: fontFamily, size: 42, color: '#000' }
};

const layout = {
    width: 1200,
    height: 959,
    margin: { l: 150, r: 305, t: 115, b: 104 },
    paper_bgcolor: '#fff',
    plot_bgcolor: '#000',
    showlegend: false,
    xaxis: Object.assign({}, axisBase, { ticklabelstandoff: -14, tickvals: xTicks, ticktext: xTicks.map(v => String(v).replace('-', '\u2212')) }),
    yaxis: Object.assign({}, axisBase, { ticklabelstandoff: -4, tickvals: yTicks, ticktext: yTicks.map(v => String(v).replace('-', '\u2212')) }),
    annotations: [
        { text: 'x', xref: 'paper', yref: 'paper', x: 0.5007, y: -0.104, xanchor: 'center', yanchor: 'middle', showarrow: false, font: { family: fontFamily, size: 60, color: '#000' } },
        { text: 'y', xref: 'paper', yref: 'paper', x: -0.101, y: 0.541, xanchor: 'center', yanchor: 'middle', showarrow: false, font: { family: fontFamily, size: 60, color: '#000' } },
        { text: 'counts in bin', xref: 'paper', yref: 'paper', x: (1036 - 150) / 745, y: 0.5, xanchor: 'center', yanchor: 'middle', textangle: -90, showarrow: false, font: { family: fontFamily, size: 35, color: '#000' } }
    ]
};

Plotly.newPlot('chart', [trace], layout, { displayModeBar: false, staticPlot: true });
</script>
</body>
</html>
